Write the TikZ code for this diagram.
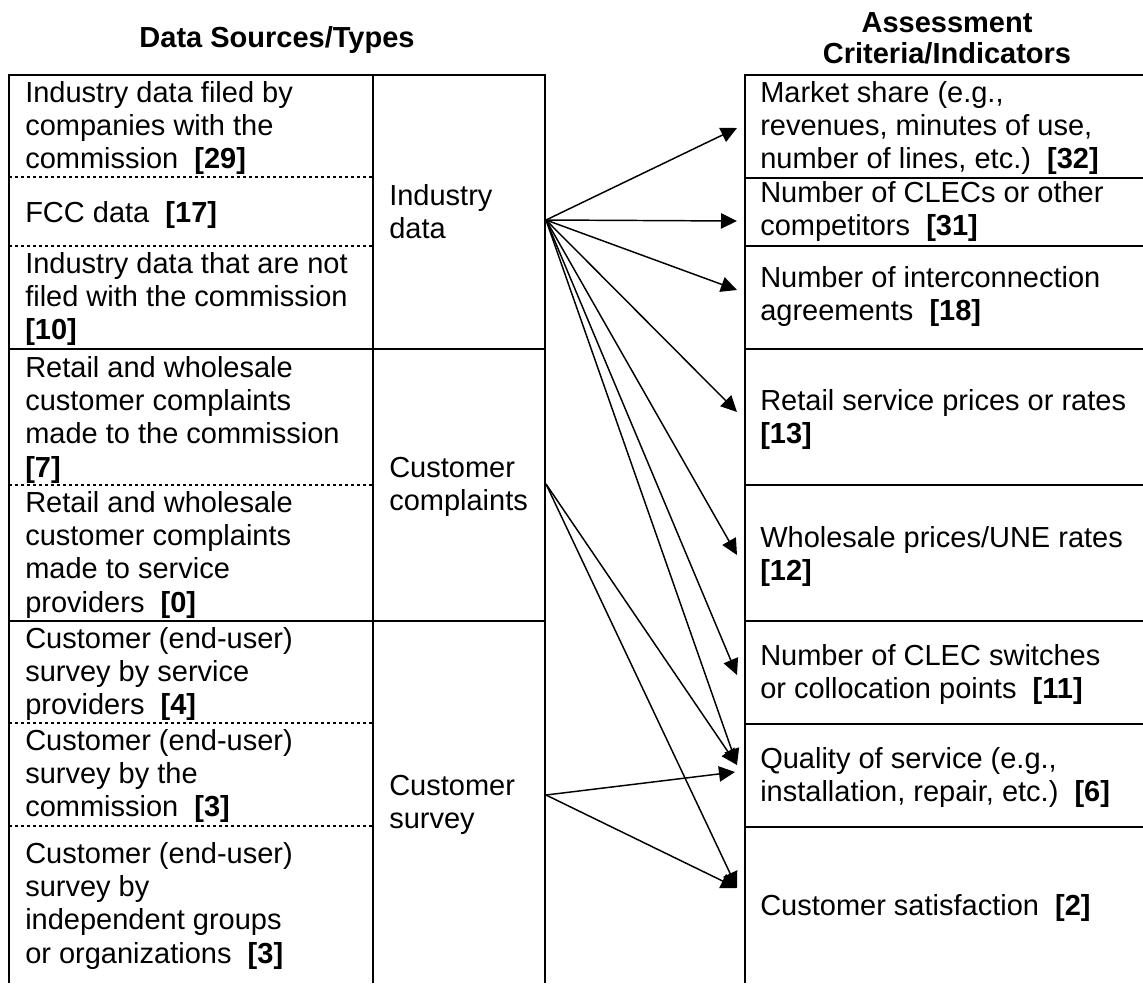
\documentclass[tikz,border=0pt]{standalone}
\usepackage{fontspec}
\setmainfont{Liberation Sans}
\usetikzlibrary{arrows.meta}
\newcommand{\mylines}[1]{\begin{tabular}[t]{@{}l@{}}#1\end{tabular}}
\newcommand{\myhead}[1]{\begin{tabular}[t]{@{}c@{}}#1\end{tabular}}
\tikzset{
  txt/.style={anchor=base west, inner sep=0pt, font=\fontsize{21.75pt}{25.1pt}\selectfont},
  headtxt/.style={anchor=base, inner sep=0pt, font=\bfseries\fontsize{21.75pt}{23.25pt}\selectfont},
  boxline/.style={line width=1.5pt},
  dotline/.style={line width=1.1pt, dash pattern=on 2.25pt off 2.25pt},
  arr/.style={line width=1.1pt, -{Triangle[length=12pt,width=11.5pt]}}
}
\begin{document}
\begin{tikzpicture}[x=0.75pt, y=-0.75pt]
\useasboundingbox (0,0) rectangle (1143,983);
\fill[white] (0,0) rectangle (1143,983);

% headings
\node[headtxt] (hleft) at (277,47) {Data Sources/Types};
\node[headtxt] (hright) at (947,32) {\myhead{Assessment\\Criteria/Indicators}};

% left box frame
\draw[boxline] (9,983) -- (9,75) -- (545,75) -- (545,983);
\draw[boxline] (373,75) -- (373,983);
\draw[boxline] (9,349) -- (545,349);
\draw[boxline] (9,621) -- (545,621);
\draw[dotline] (9,177) -- (373,177);
\draw[dotline] (9,246) -- (373,246);
\draw[dotline] (9,485) -- (373,485);
\draw[dotline] (9,723) -- (373,723);
\draw[dotline] (9,826) -- (373,826);

% right box frame
\draw[boxline] (745,983) -- (745,75) -- (1143,75);
\foreach \yy in {178,246,349,485,621,724,827}
  \draw[boxline] (745,\yy) -- (1143,\yy);

% left cell texts
\node[txt] (l1) at (25,102) {\mylines{Industry data filed by\\companies with the\\commission~~\textbf{[29]}}};
\node[txt] (l2) at (25,222) {FCC data~~\textbf{[17]}};
\node[txt] (l3) at (25,273) {\mylines{Industry data that are not\\filed with the commission\\\textbf{[10]}}};
\node[txt] (l4) at (25,377) {\mylines{Retail and wholesale\\customer complaints\\made to the commission\\\textbf{[7]}}};
\node[txt] (l5) at (25,512) {\mylines{Retail and wholesale\\customer complaints\\made to service\\providers~~\textbf{[0]}}};
\node[txt] (l6) at (25,648) {\mylines{Customer (end-user)\\survey by service\\providers~~\textbf{[4]}}};
\node[txt] (l7) at (25,750) {\mylines{Customer (end-user)\\survey by the\\commission~~\textbf{[3]}}};
\node[txt] (l8) at (25,863) {\mylines{Customer (end-user)\\survey by\\independent groups\\or organizations~~\textbf{[3]}}};

% middle texts
\node[txt] (m1) at (389,205) {\mylines{Industry\\data}};
\node[txt] (m2) at (389,477) {\mylines{Customer\\complaints}};
\node[txt] (m3) at (389,795) {\mylines{Customer\\survey}};

% right cell texts
\node[txt] (r1) at (760,102) {\mylines{Market share (e.g.,\\revenues, minutes of use,\\number of lines, etc.)~~\textbf{[32]}}};
\node[txt] (r2) at (760,202) {\mylines{Number of CLECs or other\\competitors~~\textbf{[31]}}};
\node[txt] (r3) at (760,287) {\mylines{Number of interconnection\\agreements~~\textbf{[18]}}};
\node[txt] (r4) at (760,410) {\mylines{Retail service prices or rates\\\textbf{[13]}}};
\node[txt] (r5) at (760,547) {\mylines{Wholesale prices/UNE rates\\\textbf{[12]}}};
\node[txt] (r6) at (760,665) {\mylines{Number of CLEC switches\\or collocation points~~\textbf{[11]}}};
\node[txt] (r7) at (760,768) {\mylines{Quality of service (e.g.,\\installation, repair, etc.)~~\textbf{[6]}}};
\node[txt] (r8) at (760,915) {Customer satisfaction~~\textbf{[2]}};

% connector end points
\coordinate (ind) at (546,220);
\coordinate (comp) at (546,484);
\coordinate (surv) at (546,795);
\coordinate (t1) at (737,128);
\coordinate (t2) at (737,221);
\coordinate (t3) at (737,290);
\coordinate (t4) at (737,412);
\coordinate (t5) at (737,555);
\coordinate (t6) at (737,675);
\coordinate (t7) at (737,765);
\coordinate (t7b) at (735,772);
\coordinate (t8) at (737,888);

\foreach \t in {t1,t2,t3,t4,t5,t6,t7}
  \draw[arr] (ind) -- (\t);
\draw[arr] (comp) -- (t7);
\draw[arr] (comp) -- (t8);
\draw[arr] (surv) -- (t7b);
\draw[arr] (surv) -- (t8);
\end{tikzpicture}
\end{document}
